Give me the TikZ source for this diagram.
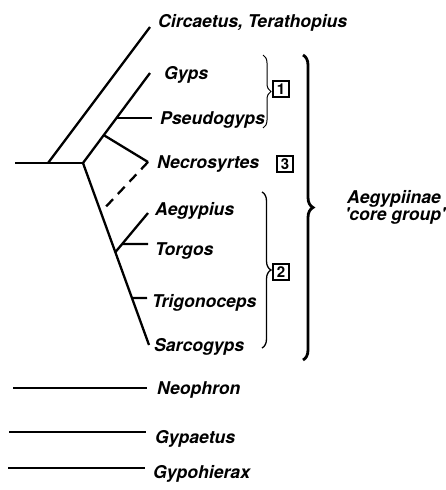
\documentclass[tikz,border=0pt]{standalone}
\usepackage{fontspec}
\setmainfont{TeX Gyre Heros}
\usetikzlibrary{positioning,calc,decorations.pathreplacing}

\begin{document}
\begin{tikzpicture}[x=1pt,y=-1pt,
    ln/.style={line width=2.3pt},
    tx/.style={inner sep=0pt,anchor=west,text height=12pt,text depth=0pt,font=\fontsize{17.6}{20}\selectfont\bfseries\itshape},
    bx/.style={draw,line width=1.4pt,minimum size=16pt,inner sep=0pt,font=\fontsize{15}{15}\selectfont\bfseries},
    br/.style={decorate,decoration={brace,amplitude=8pt}}
]
\useasboundingbox (0,0) rectangle (445,490);
% tree
\coordinate (base) at (15,163);
\coordinate (cj) at (48,163);
\coordinate (vj) at (83,163);
\coordinate (tCirc) at (150,27);
\coordinate (tGyps) at (150,73);
\coordinate (tSarc) at (149,345);
\coordinate (pj) at ($(vj)!0.5!(tGyps)$);
\coordinate (tPseu) at (152,118);
\coordinate (nj) at ($(vj)!0.31!(tGyps)$);
\coordinate (tNecr) at (148,162);
\coordinate (dj) at ($(vj)!0.27!(tSarc)$);
\coordinate (aj) at ($(vj)!0.49!(tSarc)$);
\coordinate (tAegy) at (148,213);
\coordinate (tj) at ($(aj)!0.21!(tAegy)$);
\coordinate (tTorg) at (148,244);
\coordinate (rj) at ($(vj)!0.742!(tSarc)$);
\coordinate (tTrig) at (147,298);
\draw[ln] (base) -- (vj);
\draw[ln] (cj) -- (tCirc);
\draw[ln] (vj) -- (tGyps);
\draw[ln] (vj) -- (tSarc);
\draw[ln] (pj) -- (tPseu);
\draw[ln] (nj) -- (tNecr);
\draw[ln,dash pattern=on 10pt off 7pt] (tNecr) -- (dj);
\draw[ln] (aj) -- (tAegy);
\draw[ln] (tj) -- (tTorg);
\draw[ln] (rj) -- (tTrig);
% outgroups
\coordinate (nL) at (13,388); \coordinate (nR) at (147,388);
\coordinate (gL) at (9,432);  \coordinate (gR) at (146,432);
\coordinate (hL) at (8,468);  \coordinate (hR) at (145,468);
\draw[ln] (nL) -- (nR);
\draw[ln] (gL) -- (gR);
\draw[ln] (hL) -- (hR);
% taxa
\node[tx,right=8pt of tCirc,yshift=6pt] (circ) {Circaetus, Terathopius};
\node[tx,right=14pt of tGyps] (gyps) {Gyps};
\node[tx,right=8pt of tPseu] (pseu) {Pseudogyps};
\node[tx,right=9pt of tNecr] (necr) {Necrosyrtes};
\node[tx,right=7pt of tAegy,yshift=4pt] (aegy) {Aegypius};
\node[tx,right=7pt of tTorg,yshift=-5pt] (torg) {Torgos};
\node[tx,right=5pt of tTrig,yshift=-3pt] (trig) {Trigonoceps};
\node[tx,right=5pt of tSarc] (sarc) {Sarcogyps};
\node[tx,right=10pt of nR] (neop) {Neophron};
\node[tx,right=9pt of gR,yshift=-5pt] (gypa) {Gypaetus};
\node[tx,right=8pt of hR,yshift=-4pt] (gyph) {Gypohierax};
% groups
\coordinate (b1t) at (263,55);  \coordinate (b1b) at (263,128);
\coordinate (b2t) at (262,192); \coordinate (b2b) at (262,348);
\coordinate (b0t) at (303,55);  \coordinate (b0b) at (303,360);
\draw[br,line width=1pt] (b1t) -- (b1b);
\draw[br,line width=1.3pt,decoration={amplitude=9pt}] (b2t) -- (b2b);
\draw[br,line width=2.8pt,decoration={amplitude=10pt}] (b0t) -- (b0b);
\node[bx] (g1) at (281,89) {1};
\node[bx] (g3) at (285,164) {3};
\node[bx] (g2) at (281,272) {2};
\node[tx,anchor=base west] (core) at (347,203) {Aegypiinae};
\node[tx,anchor=base west] (coreb) at (345,220) {\textquotesingle core group\textquotesingle};
\end{tikzpicture}
\end{document}
